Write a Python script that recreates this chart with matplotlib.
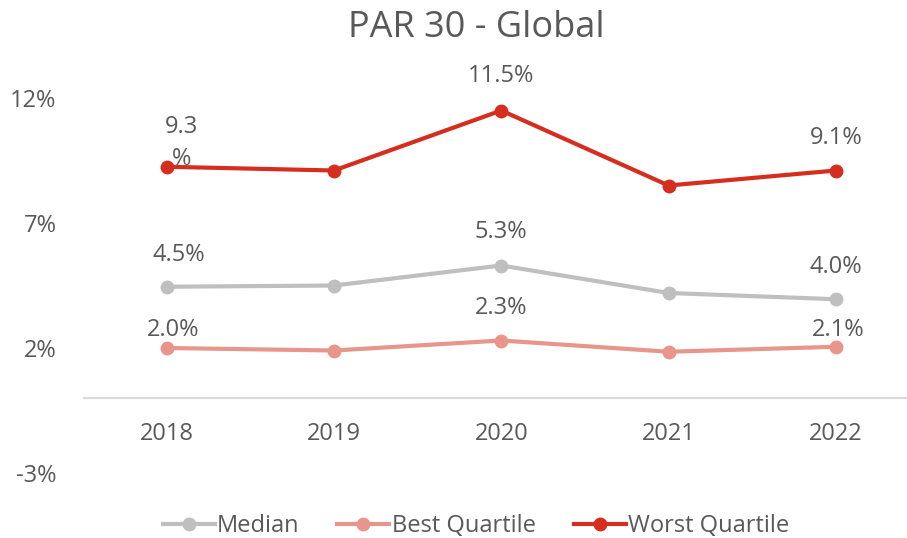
import matplotlib
matplotlib.use("Agg")
import matplotlib.pyplot as plt

plt.rcParams['font.family'] = ['Open Sans', 'DejaVu Sans']

years = ['2018', '2019', '2020', '2021', '2022']
median = [4.45, 4.5, 5.3, 4.2, 3.95]
best = [2.0, 1.9, 2.3, 1.85, 2.05]
worst = [9.25, 9.1, 11.5, 8.5, 9.1]

# data labels shown only on some points
labels_worst = {0: '9.3\n%', 2: '11.5%', 4: '9.1%'}
labels_median = {0: '4.5%', 2: '5.3%', 4: '4.0%'}
labels_best = {0: '2.0%', 2: '2.3%', 4: '2.1%'}

c_median = '#BFBFBF'
c_best = '#E8968B'
c_worst = '#D52E1F'
c_text = '#595959'
fs = 17

W, H = 907, 538
fig = plt.figure(figsize=(W / 100, H / 100), dpi=100)
ax = fig.add_axes([83 / W, (H - 473) / H, (W - 83) / W, (473 - 98) / H])

x = list(range(len(years)))
ax.plot(x, median, color=c_median, lw=3, marker='o', ms=9, label='Median')
ax.plot(x, best, color=c_best, lw=3, marker='o', ms=9, label='Best Quartile')
ax.plot(x, worst, color=c_worst, lw=3, marker='o', ms=9, label='Worst Quartile')

ax.set_xlim(-0.5, 4.5 - 12.5 / 167)
ax.set_ylim(-3, 12)
ax.set_yticks([-3, 2, 7, 12])
ax.set_yticklabels(['-3%', '2%', '7%', '12%'])
ax.set_xticks([])
for s in ax.spines.values():
    s.set_visible(False)
ax.axhline(0, color='#D9D9D9', lw=1.5, zorder=0)
ax.tick_params(axis='y', length=0, pad=19, labelsize=fs, labelcolor=c_text)

# year labels sit below the zero line
for i, yr in enumerate(years):
    ax.text(i, -1.45, yr, ha='center', va='center', fontsize=fs, color=c_text)

def put(labels, vals, offs):
    for i, t in labels.items():
        dx, dy = offs.get(i, (0, 32))
        ax.annotate(t, (i, vals[i]), xytext=(dx, dy), textcoords='offset pixels',
                    ha='center', va='center', fontsize=fs, color=c_text,
                    linespacing=1.45)

put(labels_worst, worst, {0: (15, 24), 2: (0, 35), 4: (0, 33)})
put(labels_median, median, {0: (12, 32), 2: (0, 33), 4: (0, 32)})
put(labels_best, best, {0: (6, 18), 2: (0, 32), 4: (2, 17)})

fig.text(476 / W, 1 - 28 / H, 'PAR 30 - Global', ha='center', va='center',
         fontsize=26, color=c_text)

fig.legend(loc='center', bbox_to_anchor=(476 / W, 1 - 526 / H), ncol=3,
           frameon=False, fontsize=fs, labelcolor=c_text, handlelength=2.2,
           handletextpad=0.1, columnspacing=1.6)

fig.savefig('out.png', dpi=100)
